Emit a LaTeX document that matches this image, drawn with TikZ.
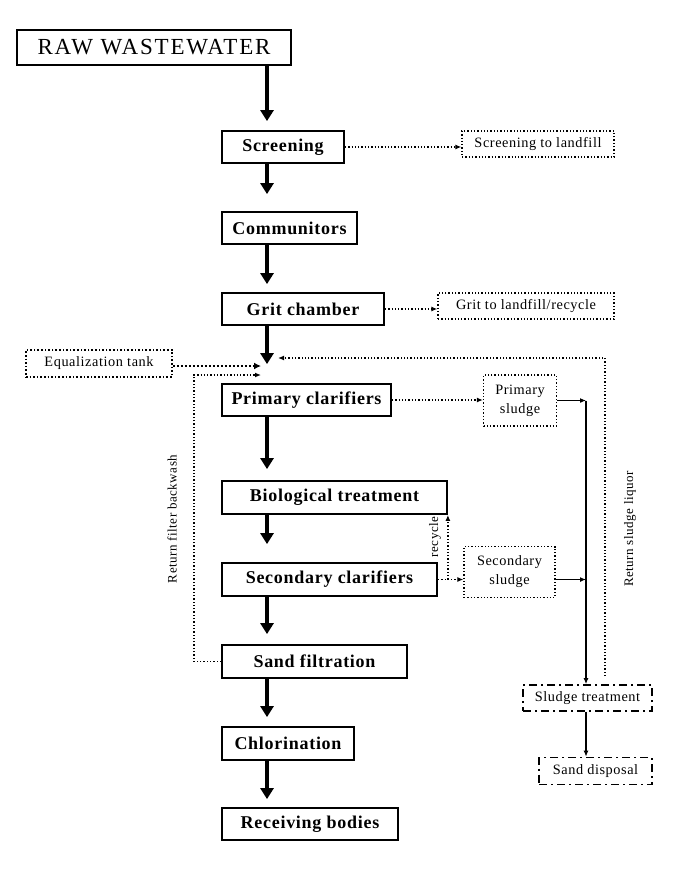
\documentclass[tikz,border=0pt]{standalone}
\usepackage{fontspec}
\setmainfont{Liberation Serif}
\newfontfamily\spacedfont{Liberation Serif}[LetterSpace=4]
\newfontfamily\titlefont{Liberation Serif}[LetterSpace=8]
\newfontfamily\lightfont{Liberation Serif}[LetterSpace=4]
\usetikzlibrary{arrows.meta}
\tikzset{
  mainbox/.style={draw, line width=1.8pt, inner sep=0pt, align=center,
    font={\spacedfont\bfseries\fontsize{18}{21}\selectfont}},
  dotbox/.style={draw, dotted, line width=1.3pt, inner sep=0pt, align=center,
    font={\lightfont\fontsize{14.3}{19}\selectfont}},
  dashdotbox/.style={draw, dash pattern=on 8pt off 4pt on 2pt off 4pt, line width=1.6pt,
    inner sep=0pt, align=center, font={\lightfont\fontsize{14.3}{19}\selectfont}},
  bigarrow/.style={line width=4pt, -{Triangle[length=11pt,width=13pt]}},
  dotarrow/.style={dotted, line width=1.3pt, -{Latex[length=6pt,width=5pt]}},
  thickdotarrow/.style={dotted, line width=2pt, -{Latex[length=7pt,width=7pt]}},
  solidarrow/.style={line width=1.6pt, -{Latex[length=6pt,width=5pt]}},
  sidelabel/.style={rotate=90, inner sep=0pt, font={\lightfont\fontsize{13}{15}\selectfont}}
}
\begin{document}
\begin{tikzpicture}[x=1pt,y=-1pt]
\useasboundingbox (0,0) rectangle (673,882);
% main chain
\node[mainbox, minimum width=274pt, minimum height=35pt, font={\titlefont\fontsize{23}{26}\selectfont}] (raw) at (154,47.5) {RAW WASTEWATER};
\node[mainbox, minimum width=122pt, minimum height=32pt] (scr) at (283,147) {Screening};
\node[mainbox, minimum width=135pt, minimum height=32pt] (com) at (289.5,228) {Communitors};
\node[mainbox, minimum width=162pt, minimum height=32pt] (grit) at (303,309) {Grit chamber};
\node[mainbox, minimum width=169pt, minimum height=32pt] (prim) at (306.5,400) {Primary clarifiers};
\node[mainbox, minimum width=225pt, minimum height=33pt] (bio) at (334.5,497.5) {Biological treatment};
\node[mainbox, minimum width=215pt, minimum height=33pt] (sec) at (329.5,579.5) {Secondary clarifiers};
\node[mainbox, minimum width=185pt, minimum height=33pt] (sand) at (314.5,661.5) {Sand filtration};
\node[mainbox, minimum width=132pt, minimum height=33pt] (chl) at (288,743.5) {Chlorination};
\node[mainbox, minimum width=176pt, minimum height=32pt] (recv) at (310,824) {Receiving bodies};
% side boxes
\node[dotbox, minimum width=152pt, minimum height=26pt] (scrl) at (538,144) {Screening to landfill};
\node[dotbox, minimum width=176pt, minimum height=26pt] (gritl) at (526,306) {Grit to landfill/recycle};
\node[dotbox, line width=1.6pt, minimum width=146pt, minimum height=27pt] (eq) at (99,363.5) {Equalization tank};
\node[dotbox, minimum width=73pt, minimum height=51pt] (psl) at (520,400.5) {Primary\\sludge};
\node[dotbox, minimum width=91pt, minimum height=51pt] (ssl) at (509.5,572) {Secondary\\sludge};
\node[dashdotbox, minimum width=129pt, minimum height=26pt] (stl) at (587.5,698) {Sludge treatment};
\node[dashdotbox, minimum width=113pt, minimum height=27pt] (sdl) at (595.5,771) {Sand disposal};
% helper coordinates
\coordinate (trunk) at (267,0);
\coordinate (sl) at (586,0);
\coordinate (jin) at (261,366);
\coordinate (fb) at (194,375);
\coordinate (jb) at (261,375);
\coordinate (rs) at (605,358);
\coordinate (jr) at (278,358);
% trunk arrows
\draw[bigarrow, shorten >=9pt] (raw.south -| trunk) -- (scr.north -| trunk);
\draw[bigarrow, shorten >=17pt] (scr.south -| trunk) -- (com.north -| trunk);
\draw[bigarrow, shorten >=8pt] (com.south -| trunk) -- (grit.north -| trunk);
\draw[bigarrow, shorten >=19pt] (grit.south -| trunk) -- (prim.north -| trunk);
\draw[bigarrow, shorten >=11pt] (prim.south -| trunk) -- (bio.north -| trunk);
\draw[bigarrow, shorten >=18pt] (bio.south -| trunk) -- (sec.north -| trunk);
\draw[bigarrow, shorten >=10pt] (sec.south -| trunk) -- (sand.north -| trunk);
\draw[bigarrow, shorten >=9pt] (sand.south -| trunk) -- (chl.north -| trunk);
\draw[bigarrow, shorten >=8pt] (chl.south -| trunk) -- (recv.north -| trunk);
% side arrows
\draw[dotarrow] (scr.east) -- (scr.east -| scrl.west);
\draw[dotarrow] (grit.east) -- (grit.east -| gritl.west);
\draw[thickdotarrow] (eq.east |- jin) -- (jin);
\draw[dotarrow] (sand.west) -| (fb) -- (jb);
\draw[dotarrow, shorten <=8pt] (stl.north -| rs) -- (rs) -- (jr);
\draw[dotarrow] (prim.east) -- (prim.east -| psl.west);
\draw[dotarrow] (sec.east) -- (sec.east -| ssl.west);
\draw[dotarrow] (sec.east -| bio.south east) -- (bio.south east);
\draw[solidarrow] (psl.east) -- (psl.east -| sl);
\draw[solidarrow] (ssl.east |- sec.east) -- (sec.east -| sl);
\draw[solidarrow] (psl.east -| sl) -- (stl.north -| sl);
\draw[solidarrow] (stl.south -| sl) -- (sdl.north -| sl);
% labels
\node[sidelabel] (lfb) at (172,519) {Return filter backwash};
\node[sidelabel] (lrs) at (630,529) {Return sludge liquor};
\node[sidelabel] (lrc) at (435,537) {recycle};
\end{tikzpicture}
\end{document}
